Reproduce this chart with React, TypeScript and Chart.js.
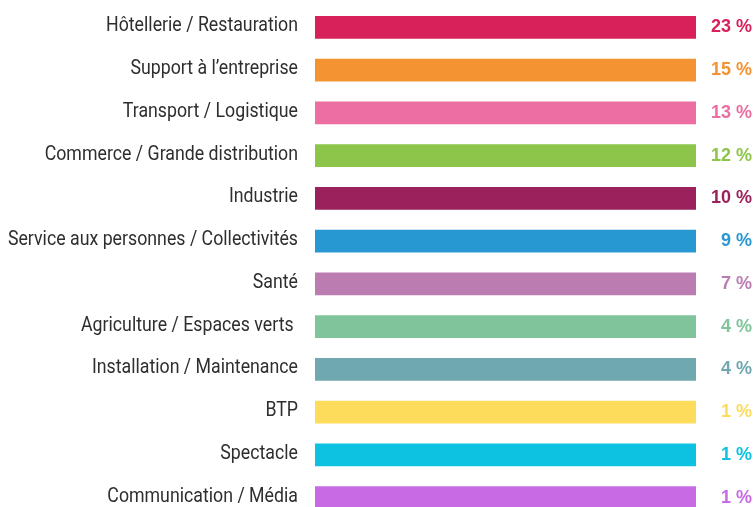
import React, { useEffect, useRef } from "react";
import { Chart, registerables } from "chart.js";

Chart.register(...registerables);

const categories: string[] = [
  "Hôtellerie / Restauration",
  "Support à l’entreprise",
  "Transport / Logistique",
  "Commerce / Grande distribution",
  "Industrie",
  "Service aux personnes / Collectivités",
  "Santé",
  "Agriculture / Espaces verts ",
  "Installation / Maintenance",
  "BTP",
  "Spectacle",
  "Communication / Média",
];

// Share of each sector (shown as the right-hand label)
const shares: number[] = [23, 15, 13, 12, 10, 9, 7, 4, 4, 1, 1, 1];

// Bars are drawn as full-length bands in the original graphic
const barLengths: number[] = [100, 100, 100, 100, 100, 100, 100, 100, 100, 100, 100, 100];

const colors: string[] = [
  "#D8215A",
  "#F39332",
  "#ED6EA0",
  "#8DC44A",
  "#9B215C",
  "#2898D2",
  "#BB7CB1",
  "#7FC49A",
  "#6FA8AF",
  "#FDDC5C",
  "#0CC2E0",
  "#C86AE3",
];

const shareLabels: string[] = shares.map((v) => `${v} %`);

export default function App() {
  const ref = useRef<HTMLCanvasElement | null>(null);

  useEffect(() => {
    if (!ref.current) return;
    const labelPlugin = {
      id: "labels",
      afterDatasetsDraw(chart: any) {
        const ctx = chart.ctx;
        const meta = chart.getDatasetMeta(0);
        const yScale = chart.scales.y;
        ctx.save();
        // right-hand percentage labels
        ctx.font = "bold 18px 'Liberation Sans', Arial, sans-serif";
        ctx.textAlign = "right";
        ctx.textBaseline = "alphabetic";
        meta.data.forEach((el: any, i: number) => {
          ctx.fillStyle = colors[i];
          ctx.fillText(shareLabels[i], chart.width - 4, el.y + 5);
        });
        // left-hand category labels (condensed look)
        ctx.font = "400 21px Roboto, sans-serif";
        ctx.fillStyle = "#2e2e2e";
        categories.forEach((c, i) => {
          const y = yScale.getPixelForTick(i);
          ctx.save();
          ctx.translate(yScale.right - 17, y + 4);
          ctx.scale(0.845, 1);
          ctx.fillText(c, 0, 0);
          ctx.restore();
        });
        ctx.restore();
      },
    };

    const chart = new Chart(ref.current, {
      type: "bar",
      data: {
        labels: categories,
        datasets: [
          {
            data: barLengths,
            backgroundColor: colors,
            borderWidth: 0,
            barThickness: 22,
          },
        ],
      },
      options: {
        indexAxis: "y",
        responsive: false,
        animation: false,
        layout: { padding: { top: 6, right: 60, bottom: 0, left: 0 } },
        plugins: {
          legend: { display: false },
          tooltip: { enabled: false },
        },
        scales: {
          x: {
            display: false,
            min: 0,
            max: 100,
          },
          y: {
            grid: { display: false, drawTicks: false },
            border: { display: false },
            ticks: { display: false },
            afterFit: (scale: any) => {
              scale.width = 315;
              scale.paddingTop = 0;
              scale.paddingBottom = 0;
            },
          },
        },
      },
      plugins: [labelPlugin],
    });
    return () => chart.destroy();
  }, []);

  return (
    <div style={{ position: "absolute", left: 0, top: 0, width: 756, height: 519, background: "#fff" }}>
      <canvas ref={ref} width={756} height={519} style={{ display: "block" }} />
    </div>
  );
}
